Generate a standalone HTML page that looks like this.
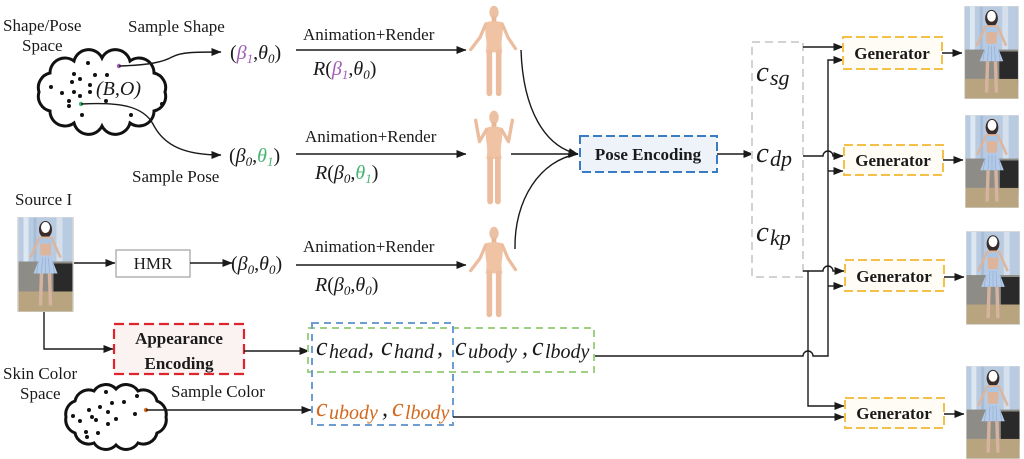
<!DOCTYPE html>
<html><head><meta charset="utf-8">
<style>
html,body{margin:0;padding:0;background:#fff;}
svg{display:block;}
text{font-family:"Liberation Serif","DejaVu Serif",serif;fill:#1a1a1a;}
.it{font-style:italic;}
.b{font-weight:bold;}
</style></head>
<body>
<svg width="1024" height="459" viewBox="0 0 1024 459" xmlns="http://www.w3.org/2000/svg">
<defs>
<marker id="ah" markerWidth="10" markerHeight="8" refX="9.5" refY="4" orient="auto" markerUnits="userSpaceOnUse"><path d="M0,0 L10,4 L0,8 z" fill="#1a1a1a"/></marker>
<symbol id="ph" viewBox="0 0 54 94">
<rect width="54" height="94" fill="#c4cdd6"/>
<rect x="0" y="0" width="54" height="48" fill="#b9cbe0"/>
<rect x="5" y="0" width="5" height="48" fill="#dde7f1"/>
<rect x="15" y="0" width="3" height="48" fill="#a7bcd6"/>
<rect x="38" y="0" width="6" height="48" fill="#d5e0ec"/>
<rect x="0" y="44" width="54" height="30" fill="#8e8c86"/>
<rect x="35" y="46" width="19" height="34" fill="#2b2a2a"/>
<rect x="0" y="74" width="54" height="20" fill="#b8a47e"/>
<ellipse cx="27" cy="12" rx="6.5" ry="8.5" fill="#3a2c28"/>
<ellipse cx="27" cy="10" rx="4.5" ry="5.5" fill="#fff"/>
<path d="M21,19 L33,19 L32,40 L22,40 Z" fill="#dcb59c"/>
<path d="M21,20 L12,40 M33,20 L42,40" stroke="#dcb59c" stroke-width="2.5" fill="none"/>
<rect x="21" y="21" width="12" height="5" fill="#a9c6e6"/>
<path d="M22,38 L32,38 L39,56 L15,56 Z" fill="#b3cbe8"/>
<path d="M20,44 L18,56 M24,40 L23,56 M27,40 L27,56 M30,40 L31,56 M34,44 L36,56" stroke="#8fa9cc" stroke-width="0.6"/>
<path d="M23,56 L22,88 M31,56 L32,88" stroke="#d6b39e" stroke-width="3.5" fill="none"/>
</symbol>
<symbol id="fig" viewBox="0 0 60 100">
<ellipse cx="30" cy="9" rx="5" ry="7" fill="#ecc0a2"/>
<rect x="27.5" y="14" width="5" height="6" fill="#e8b797"/>
<path d="M20,20 Q30,17 40,20 L39,34 Q37,44 39,52 L21,52 Q23,44 21,34 Z" fill="#efc3a4"/>
<path d="M21,22 L15,36 L5,49 M39,22 L45,36 L53,48" stroke="#ebbd9e" stroke-width="3.5" fill="none" stroke-linecap="round"/>
<path d="M25,52 L25,96 M35,52 L35,96" stroke="#ebbd9e" stroke-width="6" fill="none" stroke-linecap="round"/>
</symbol>
<symbol id="fig2" viewBox="0 0 60 100">
<ellipse cx="30" cy="9" rx="5" ry="7" fill="#ecc0a2"/>
<rect x="27.5" y="14" width="5" height="6" fill="#e8b797"/>
<path d="M21,20 Q30,17 39,20 L38,34 Q36,44 38,52 L22,52 Q24,44 22,34 Z" fill="#efc3a4"/>
<path d="M22,22 L15,34 L11,12 M38,22 L45,34 L49,12" stroke="#ebbd9e" stroke-width="3.5" fill="none" stroke-linecap="round" stroke-linejoin="round"/>
<path d="M26,52 L26,96 M34,52 L34,96" stroke="#ebbd9e" stroke-width="6" fill="none" stroke-linecap="round"/>
</symbol>
</defs>

<!-- top-left labels -->
<text x="3" y="31" font-size="17">Shape/Pose</text>
<text x="22" y="51" font-size="17">Space</text>
<text x="128" y="32" font-size="17">Sample Shape</text>
<text x="132" y="182" font-size="17">Sample Pose</text>

<!-- cloud 1 -->
<path d="M165,92 A15,15 0 0 1 154,111 A15,15 0 0 1 130,123 A15,15 0 0 1 102,126 A15,15 0 0 1 74,123 A15,15 0 0 1 50,111 A15,15 0 0 1 39,92 A15,15 0 0 1 50,73 A15,15 0 0 1 74,61 A15,15 0 0 1 102,58 A15,15 0 0 1 130,61 A15,15 0 0 1 154,73 A15,15 0 0 1 165,92 Z" fill="#fff" stroke="#111" stroke-width="3"/>
<g fill="#111">
<circle cx="88" cy="63" r="2"/><circle cx="74" cy="74" r="2"/><circle cx="95" cy="75" r="2"/><circle cx="107" cy="75" r="2"/>
<circle cx="72" cy="82" r="2"/><circle cx="80" cy="79" r="2"/><circle cx="90" cy="85" r="2"/><circle cx="51" cy="87" r="2"/>
<circle cx="62" cy="93" r="2"/><circle cx="74" cy="92" r="2"/><circle cx="90" cy="92" r="2"/><circle cx="69" cy="101" r="2"/>
<circle cx="69" cy="106" r="2"/><circle cx="106" cy="101" r="2"/><circle cx="82" cy="115" r="2"/><circle cx="131" cy="115" r="2"/>
<circle cx="162" cy="104" r="2"/><circle cx="80" cy="96" r="2"/>
</g>
<text x="96" y="95" font-size="20" class="it">(B,O)</text>
<circle cx="119" cy="66" r="2.2" fill="#a05cb5"/>
<circle cx="81" cy="104" r="2.2" fill="#46b370"/>
<path d="M119,66 C150,65 163,62 172,57 C181,52 195,52 221,52" fill="none" stroke="#1a1a1a" stroke-width="1.4" marker-end="url(#ah)"/>
<path d="M81,104 C120,102 143,106 153,124 C164,146 185,155 221,155" fill="none" stroke="#1a1a1a" stroke-width="1.4" marker-end="url(#ah)"/>

<!-- tuples -->
<text x="230" y="59" font-size="20">(<tspan class="it" fill="#a05cb5" style="fill:#a05cb5">β</tspan><tspan class="it" font-size="13" dy="4" style="fill:#a05cb5">1</tspan><tspan dy="-4">,</tspan><tspan class="it">θ</tspan><tspan class="it" font-size="13" dy="4">0</tspan><tspan dy="-4">)</tspan></text>
<text x="229" y="162" font-size="20">(<tspan class="it">β</tspan><tspan class="it" font-size="13" dy="4">0</tspan><tspan dy="-4">,</tspan><tspan class="it" style="fill:#46b370">θ</tspan><tspan class="it" font-size="13" dy="4" style="fill:#46b370">1</tspan><tspan dy="-4">)</tspan></text>
<text x="231" y="270" font-size="20">(<tspan class="it">β</tspan><tspan class="it" font-size="13" dy="4">0</tspan><tspan dy="-4">,</tspan><tspan class="it">θ</tspan><tspan class="it" font-size="13" dy="4">0</tspan><tspan dy="-4">)</tspan></text>

<!-- animation rows -->
<text x="303" y="40" font-size="17">Animation+Render</text>
<line x1="296" y1="50" x2="466" y2="50" stroke="#1a1a1a" stroke-width="1.4" marker-end="url(#ah)"/>
<text x="313" y="75" font-size="20"><tspan class="it">R</tspan>(<tspan class="it" style="fill:#a05cb5">β</tspan><tspan class="it" font-size="13" dy="4" style="fill:#a05cb5">1</tspan><tspan dy="-4">,</tspan><tspan class="it">θ</tspan><tspan class="it" font-size="13" dy="4">0</tspan><tspan dy="-4">)</tspan></text>

<text x="305" y="142" font-size="17">Animation+Render</text>
<line x1="296" y1="154" x2="466" y2="154" stroke="#1a1a1a" stroke-width="1.4" marker-end="url(#ah)"/>
<text x="315" y="179" font-size="20"><tspan class="it">R</tspan>(<tspan class="it">β</tspan><tspan class="it" font-size="13" dy="4">0</tspan><tspan dy="-4">,</tspan><tspan class="it" style="fill:#46b370">θ</tspan><tspan class="it" font-size="13" dy="4" style="fill:#46b370">1</tspan><tspan dy="-4">)</tspan></text>

<text x="303" y="252" font-size="17">Animation+Render</text>
<line x1="296" y1="265" x2="466" y2="265" stroke="#1a1a1a" stroke-width="1.4" marker-end="url(#ah)"/>
<text x="315" y="291" font-size="20"><tspan class="it">R</tspan>(<tspan class="it">β</tspan><tspan class="it" font-size="13" dy="4">0</tspan><tspan dy="-4">,</tspan><tspan class="it">θ</tspan><tspan class="it" font-size="13" dy="4">0</tspan><tspan dy="-4">)</tspan></text>

<!-- figures -->
<use href="#fig" x="466" y="2" width="56" height="97"/>
<use href="#fig2" x="465" y="108" width="58" height="98"/>
<use href="#fig" x="466" y="223" width="56" height="97"/>

<!-- curves to pose encoding -->
<path d="M521,50 C523,110 545,147 578,154" fill="none" stroke="#1a1a1a" stroke-width="1.4" marker-end="url(#ah)"/>
<line x1="511" y1="154" x2="578" y2="154" stroke="#1a1a1a" stroke-width="1.4" marker-end="url(#ah)"/>
<path d="M515,249 C514,200 540,160 578,154" fill="none" stroke="#1a1a1a" stroke-width="1.4"/>

<!-- pose encoding -->
<rect x="580" y="136" width="137" height="36" fill="#eef3fa" stroke="#3a7cc4" stroke-width="2" stroke-dasharray="9,4"/>
<text x="648" y="160" font-size="17" class="b" text-anchor="middle">Pose Encoding</text>
<line x1="717" y1="154" x2="753" y2="154" stroke="#1a1a1a" stroke-width="1.4" marker-end="url(#ah)"/>

<!-- gray code box -->
<rect x="752" y="42" width="51" height="235" fill="#fff" stroke="#d2d2d2" stroke-width="2" stroke-dasharray="8,5"/>
<text x="756" y="81" font-size="29" class="it">c</text><text x="770" y="85" font-size="22" class="it">sg</text>
<text x="756" y="162" font-size="29" class="it">c</text><text x="770" y="166" font-size="22" class="it">dp</text>
<text x="756" y="241" font-size="29" class="it">c</text><text x="770" y="245" font-size="22" class="it">kp</text>

<!-- source -->
<text x="15" y="205" font-size="17">Source I</text>
<rect x="17" y="217" width="57" height="95" fill="#ddd"/>
<use href="#ph" x="17.5" y="217.5" width="56" height="94"/>
<line x1="74" y1="263" x2="115" y2="263" stroke="#1a1a1a" stroke-width="1.4" marker-end="url(#ah)"/>
<rect x="116" y="250" width="74" height="27" fill="#fff" stroke="#a8a8a8" stroke-width="1.3"/>
<text x="153" y="269" font-size="17" text-anchor="middle">HMR</text>
<line x1="190" y1="263" x2="232" y2="263" stroke="#1a1a1a" stroke-width="1.4" marker-end="url(#ah)"/>
<path d="M44,312 V349 H113" fill="none" stroke="#1a1a1a" stroke-width="1.4" marker-end="url(#ah)"/>

<!-- appearance encoding -->
<rect x="114" y="324" width="130" height="50" fill="#fbf2f2" stroke="#e0242c" stroke-width="2.2" stroke-dasharray="10,5"/>
<text x="179" y="344" font-size="17" class="b" text-anchor="middle">Appearance</text>
<text x="179" y="369" font-size="17" class="b" text-anchor="middle">Encoding</text>
<line x1="244" y1="351" x2="309" y2="351" stroke="#1a1a1a" stroke-width="1.4" marker-end="url(#ah)"/>

<!-- skin color -->
<text x="3" y="379" font-size="17">Skin Color</text>
<text x="20" y="399" font-size="17">Space</text>
<text x="171" y="397" font-size="17">Sample Color</text>
<path d="M166,417 A14,14 0 0 1 157,433 A14,14 0 0 1 138,443 A14,14 0 0 1 116,445 A14,14 0 0 1 94,443 A14,14 0 0 1 75,433 A14,14 0 0 1 66,417 A14,14 0 0 1 75,401 A14,14 0 0 1 94,391 A14,14 0 0 1 116,389 A14,14 0 0 1 138,391 A14,14 0 0 1 157,401 A14,14 0 0 1 166,417 Z" fill="#fff" stroke="#111" stroke-width="3"/>
<g fill="#111">
<circle cx="106" cy="392" r="2"/><circle cx="137" cy="396" r="2"/><circle cx="124" cy="402" r="2"/><circle cx="112" cy="403" r="2"/>
<circle cx="100" cy="407" r="2"/><circle cx="89" cy="410" r="2"/><circle cx="108" cy="412" r="2"/><circle cx="135" cy="414" r="2"/>
<circle cx="73" cy="416" r="2"/><circle cx="92" cy="417" r="2"/><circle cx="96" cy="420" r="2"/><circle cx="116" cy="419" r="2"/>
<circle cx="80" cy="421" r="2"/><circle cx="108" cy="424" r="2"/><circle cx="86" cy="432" r="2"/><circle cx="87" cy="437" r="2"/>
<circle cx="98" cy="433" r="2"/>
</g>
<circle cx="146" cy="410" r="2.2" fill="#d2691e"/>
<line x1="146" y1="410" x2="311" y2="410" stroke="#1a1a1a" stroke-width="1.4" marker-end="url(#ah)"/>

<!-- code boxes -->
<rect x="308" y="328" width="286" height="44" fill="none" stroke="#9fd184" stroke-width="2" stroke-dasharray="7,5"/>
<rect x="312" y="323" width="141" height="102" fill="none" stroke="#6d9dd3" stroke-width="2" stroke-dasharray="7,5"/>
<g font-size="26" class="it">
<text x="316" y="355" class="it">c</text><text x="329" y="358" font-size="20" class="it">head</text><text x="368" y="355" font-size="24">,</text>
<text x="381" y="355" class="it">c</text><text x="394" y="358" font-size="20" class="it">hand</text><text x="437" y="355" font-size="24">,</text>
<text x="455" y="355" class="it">c</text><text x="468" y="358" font-size="20" class="it">ubody</text><text x="522" y="355" font-size="24">,</text>
<text x="532" y="355" class="it">c</text><text x="545" y="358" font-size="20" class="it">lbody</text>
</g>
<g font-size="26" class="it" style="fill:#d2691e">
<text x="316" y="416" class="it" style="fill:#d2691e">c</text><text x="329" y="419" font-size="20" class="it" style="fill:#d2691e">ubody</text><text x="382" y="416" font-size="24">,</text>
<text x="392" y="416" class="it" style="fill:#d2691e">c</text><text x="405" y="419" font-size="20" class="it" style="fill:#d2691e">lbody</text>
</g>

<!-- wiring to generators -->
<g fill="none" stroke="#1a1a1a" stroke-width="1.4">
<path d="M803,47 H843" marker-end="url(#ah)"/>
<path d="M595,356 H803 A5,5 0 0 1 813,356 H828 V60 H843" marker-end="url(#ah)"/>
<path d="M828,171 H843" marker-end="url(#ah)"/>
<path d="M828,286 H843" marker-end="url(#ah)"/>
<path d="M803,156 H823 A5,5 0 0 1 833,156 H843" marker-end="url(#ah)"/>
<path d="M803,271 H823 A5,5 0 0 1 833,271 H844" marker-end="url(#ah)"/>
<path d="M808,271 V406 H844" marker-end="url(#ah)"/>
<path d="M453,417 H844" marker-end="url(#ah)"/>
<path d="M942,53 H962" marker-end="url(#ah)"/>
<path d="M943,160 H963" marker-end="url(#ah)"/>
<path d="M944,277 H964" marker-end="url(#ah)"/>
<path d="M944,414 H964" marker-end="url(#ah)"/>
</g>

<!-- generators -->
<g stroke="#f4c04a" stroke-width="2" stroke-dasharray="9,4" fill="#fffcf6">
<rect x="843" y="37" width="99" height="32"/>
<rect x="844" y="145" width="99" height="30"/>
<rect x="845" y="260" width="99" height="31"/>
<rect x="845" y="398" width="99" height="30"/>
</g>
<text x="892" y="59" font-size="17" class="b" text-anchor="middle">Generator</text>
<text x="893" y="166" font-size="17" class="b" text-anchor="middle">Generator</text>
<text x="894" y="282" font-size="17" class="b" text-anchor="middle">Generator</text>
<text x="894" y="419" font-size="17" class="b" text-anchor="middle">Generator</text>

<!-- output photos -->
<rect x="964" y="6" width="55" height="93" fill="#ddd"/>
<use href="#ph" x="964.5" y="6.5" width="54" height="92"/>
<rect x="965" y="115" width="54" height="93" fill="#ddd"/>
<use href="#ph" x="965.5" y="115.5" width="53" height="92"/>
<rect x="966" y="231" width="54" height="94" fill="#ddd"/>
<use href="#ph" x="966.5" y="231.5" width="53" height="93"/>
<rect x="966" y="366" width="54" height="93" fill="#ddd"/>
<use href="#ph" x="966.5" y="366.5" width="53" height="92"/>
</svg>
</body></html>
